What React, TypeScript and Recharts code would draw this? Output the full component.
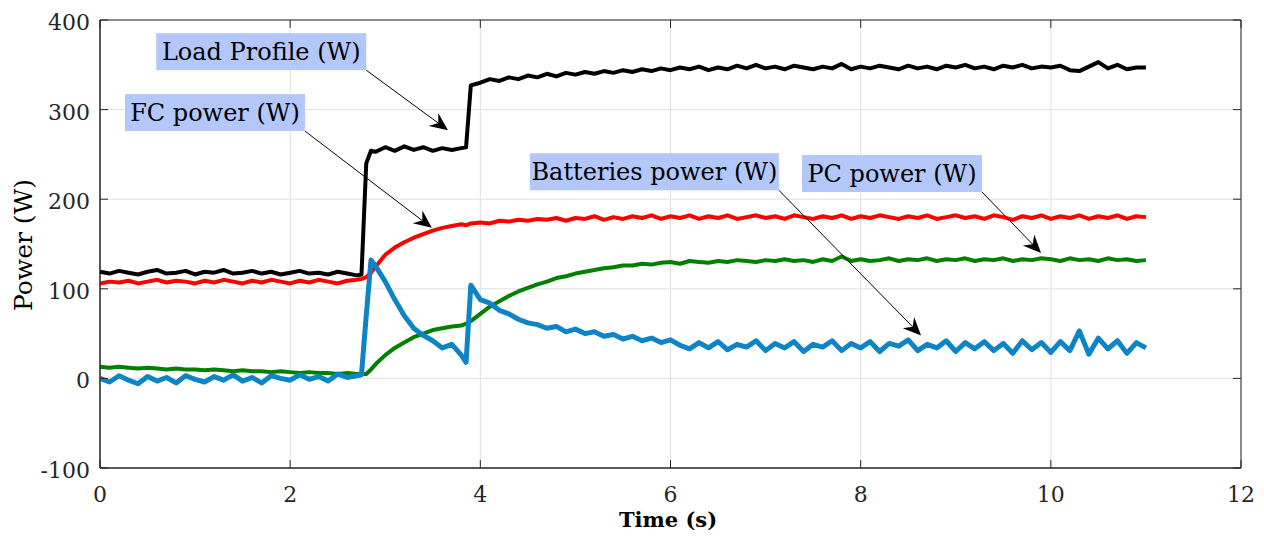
import React from 'react';
import { LineChart, Line, XAxis, YAxis, CartesianGrid, ReferenceArea, ReferenceLine } from 'recharts';

// time stamps (s), denser around the two load steps
const time = [
  0, 0.1, 0.2, 0.3, 0.4, 0.5, 0.6, 0.7, 0.8, 0.9, 1.0, 1.1, 1.2, 1.3, 1.4, 1.5, 1.6, 1.7, 1.8, 1.9,
  2.0, 2.1, 2.2, 2.3, 2.4, 2.5, 2.6, 2.7,
  2.75, 2.8, 2.85,
  2.9, 3.0, 3.1, 3.2, 3.3, 3.4, 3.5, 3.6, 3.7, 3.8,
  3.85, 3.9,
  4.0, 4.1, 4.2, 4.3, 4.4, 4.5, 4.6, 4.7, 4.8, 4.9,
  5.0, 5.1, 5.2, 5.3, 5.4, 5.5, 5.6, 5.7, 5.8, 5.9,
  6.0, 6.1, 6.2, 6.3, 6.4, 6.5, 6.6, 6.7, 6.8, 6.9,
  7.0, 7.1, 7.2, 7.3, 7.4, 7.5, 7.6, 7.7, 7.8, 7.9,
  8.0, 8.1, 8.2, 8.3, 8.4, 8.5, 8.6, 8.7, 8.8, 8.9,
  9.0, 9.1, 9.2, 9.3, 9.4, 9.5, 9.6, 9.7, 9.8, 9.9,
  10.0, 10.1, 10.2, 10.3, 10.4, 10.5, 10.6, 10.7, 10.8, 10.9, 11.0,
];

const loadProfile = [
  119, 117, 120, 118, 116, 119, 121, 117, 118, 120, 116, 119, 118, 121, 117, 118, 120, 117, 119, 116,
  118, 120, 117, 118, 116, 119, 117, 115,
  116, 240, 254,
  253, 258, 254, 259, 255, 258, 254, 257, 255, 257,
  258, 327,
  330, 334, 332, 336, 334, 338, 336, 340, 337, 341,
  339, 342, 340, 343, 341, 344, 342, 345, 343, 346,
  344, 347, 345, 348, 344, 347, 345, 349, 346, 350,
  346, 348, 345, 349, 347, 345, 348, 346, 351, 345,
  348, 346, 349, 347, 345, 349, 346, 348, 345, 349,
  347, 350, 346, 348, 345, 349, 347, 350, 346, 348,
  347, 349, 344, 343, 348, 353, 346, 350, 345, 347, 347,
];

const fcPower = [
  106, 108, 107, 109, 106, 108, 110, 107, 109, 108, 106, 109, 107, 110, 108, 106, 109, 107, 110, 108,
  106, 109, 107, 110, 108, 106, 109, 110,
  111, 113, 118,
  125, 138, 146, 152, 157, 161, 165, 168, 170, 172,
  171, 173,
  174, 173, 176, 175, 177, 176, 178, 177, 179, 176,
  179, 178, 181, 177, 180, 178, 181, 179, 182, 178,
  181, 179, 182, 178, 181, 179, 182, 178, 180, 182,
  179, 181, 178, 182, 180, 178, 181, 179, 182, 178,
  181, 179, 182, 180, 178, 181, 179, 182, 178, 180,
  182, 179, 181, 178, 182, 180, 177, 181, 179, 182,
  178, 181, 179, 182, 178, 181, 179, 182, 178, 181, 180,
];

const pcPower = [
  13, 12, 13, 12, 11, 12, 11, 10, 11, 10, 10, 9, 10, 9, 8, 9, 8, 8, 7, 8,
  7, 6, 7, 6, 6, 5, 6, 5,
  5, 5, 10,
  16, 26, 34, 40, 46, 50, 54, 56, 58, 59,
  61, 64,
  72, 80, 86, 92, 97, 101, 105, 108, 112, 114,
  117, 119, 121, 123, 124, 126, 126, 128, 127, 129,
  130, 128, 131, 130, 129, 131, 130, 132, 131, 130,
  132, 131, 133, 131, 132, 130, 133, 131, 136, 131,
  133, 131, 132, 134, 131, 133, 132, 134, 131, 133,
  132, 134, 131, 133, 132, 134, 131, 133, 132, 134,
  133, 131, 134, 132, 133, 131, 134, 132, 133, 131, 132,
];

const batteryPower = [
  0, -4, 3, -2, -6, 2, -3, 1, -5, 3, -1, -4, 2, -2, 4, -3, 1, -5, 3, 0,
  -2, 4, -1, 2, -3, 5, 1, 3,
  4, 70, 132,
  125, 108, 88, 70, 56, 48, 42, 34, 38, 26,
  18, 104,
  88, 84, 76, 72, 66, 62, 60, 56, 58, 52,
  55, 50, 52, 47, 49, 44, 47, 42, 45, 40,
  43, 37, 33, 40, 34, 41, 32, 38, 35, 42,
  31, 39, 34, 41, 30, 38, 35, 42, 31, 39,
  34, 41, 30, 39, 36, 43, 31, 38, 34, 42,
  30, 40, 33, 41, 31, 39, 28, 42, 32, 40,
  29, 41, 31, 53, 27, 45, 33, 42, 28, 40, 34,
];

const xTicks = [0, 2, 4, 6, 8, 10, 12];
const yTicks = [-100, 0, 100, 200, 300, 400];

const data = time.map((t, i) => ({
  t,
  load: loadProfile[i],
  fc: fcPower[i],
  pc: pcPower[i],
  bat: batteryPower[i],
}));

const W = 1256;
const H = 532;
const M = { top: 12, right: 23, left: 0, bottom: 0 };
const PLOT_TOP = M.top;
const PLOT_RIGHT = W - M.right;
const FONT = 'DejaVu Serif';
const AXIS = '#262626';

const XTick = (props: any) => {
  const { x, y, payload } = props;
  return (
    <g>
      <line x1={x} y1={y} x2={x} y2={y - 8} stroke={AXIS} strokeWidth={1} />
      <line x1={x} y1={PLOT_TOP} x2={x} y2={PLOT_TOP + 8} stroke={AXIS} strokeWidth={1} />
      <text x={x} y={y + 34} textAnchor="middle" fontFamily={FONT} fontSize={22} fill={AXIS}>
        {payload.value}
      </text>
    </g>
  );
};

const YTick = (props: any) => {
  const { x, y, payload } = props;
  return (
    <g>
      <line x1={x} y1={y} x2={x + 8} y2={y} stroke={AXIS} strokeWidth={1} />
      <line x1={PLOT_RIGHT} y1={y} x2={PLOT_RIGHT - 8} y2={y} stroke={AXIS} strokeWidth={1} />
      <text x={x - 10} y={y + 10} textAnchor="end" fontFamily={FONT} fontSize={22} fill={AXIS}>
        {payload.value}
      </text>
    </g>
  );
};

// text box anchored by its bottom-right corner at the segment start, arrow to the segment end
const annotation = (label: string, boxW: number) => (p: any) => {
  const { x1, y1, x2, y2 } = p;
  const boxH = 37;
  const dx = x2 - x1;
  const dy = y2 - y1;
  const len = Math.sqrt(dx * dx + dy * dy);
  const ux = dx / len;
  const uy = dy / len;
  const headL = 18;
  const headW = 8;
  const bx = x2 - ux * headL;
  const by = y2 - uy * headL;
  const nx = x2 - ux * (headL - 6);
  const ny = y2 - uy * (headL - 6);
  const pts = [
    `${x2},${y2}`,
    `${bx - uy * headW},${by + ux * headW}`,
    `${nx},${ny}`,
    `${bx + uy * headW},${by - ux * headW}`,
  ].join(' ');
  return (
    <g>
      <rect x={x1 - boxW} y={y1 - boxH} width={boxW} height={boxH} fill="#b3c7fa" />
      <text x={x1 - boxW / 2} y={y1 - 10} textAnchor="middle" fontFamily={FONT} fontSize={24} fill="#000">
        {label}
      </text>
      <line x1={x1} y1={y1} x2={nx} y2={ny} stroke="#000" strokeWidth={1} />
      <polygon points={pts} fill="#000" />
    </g>
  );
};

export default function App() {
  return (
    <div style={{ width: W, height: H }}>
      <LineChart width={W} height={H} data={data} margin={M}>
        <CartesianGrid stroke="#e0e0e0" strokeWidth={1} />
        <XAxis
          type="number"
          dataKey="t"
          domain={[0, 12]}
          ticks={xTicks}
          interval={0}
          height={72}
          tickSize={0}
          tickMargin={0}
          stroke={AXIS}
          tick={XTick}
          label={{
            content: () => (
              <text x={660} y={519} textAnchor="middle" fontFamily={FONT} fontSize={21} fontWeight="bold" fill="#000">
                Time (s)
              </text>
            ),
          }}
        />
        <YAxis
          type="number"
          domain={[-100, 400]}
          ticks={yTicks}
          interval={0}
          width={92}
          tickSize={0}
          tickMargin={0}
          stroke={AXIS}
          tick={YTick}
          label={{
            content: () => (
              <text
                x={15}
                y={237}
                transform="rotate(-90 15 237)"
                textAnchor="middle"
                dominantBaseline="central"
                fontFamily={FONT}
                fontSize={25}
                fill="#000"
              >
                Power (W)
              </text>
            ),
          }}
        />
        <ReferenceArea x1={0} x2={12} y1={-100} y2={400} fill="none" stroke={AXIS} strokeWidth={1} />
        <Line type="linear" dataKey="load" stroke="#000000" strokeWidth={4} dot={false} isAnimationActive={false} strokeLinejoin="round" />
        <Line type="linear" dataKey="fc" stroke="#ff0000" strokeWidth={4} dot={false} isAnimationActive={false} strokeLinejoin="round" />
        <Line type="linear" dataKey="pc" stroke="#008000" strokeWidth={4} dot={false} isAnimationActive={false} strokeLinejoin="round" />
        <Line type="linear" dataKey="bat" stroke="#0d84c6" strokeWidth={5} dot={false} isAnimationActive={false} strokeLinejoin="round" />
        <ReferenceLine segment={[{ x: 2.8, y: 344 }, { x: 3.66, y: 277 }]} shape={annotation('Load Profile (W)', 210)} />
        <ReferenceLine segment={[{ x: 2.156, y: 276 }, { x: 3.49, y: 168 }]} shape={annotation('FC power (W)', 180)} />
        <ReferenceLine segment={[{ x: 7.14, y: 210 }, { x: 8.635, y: 48 }]} shape={annotation('Batteries power (W)', 249)} />
        <ReferenceLine segment={[{ x: 9.276, y: 208 }, { x: 9.897, y: 140 }]} shape={annotation('PC power (W)', 180)} />
      </LineChart>
    </div>
  );
}
